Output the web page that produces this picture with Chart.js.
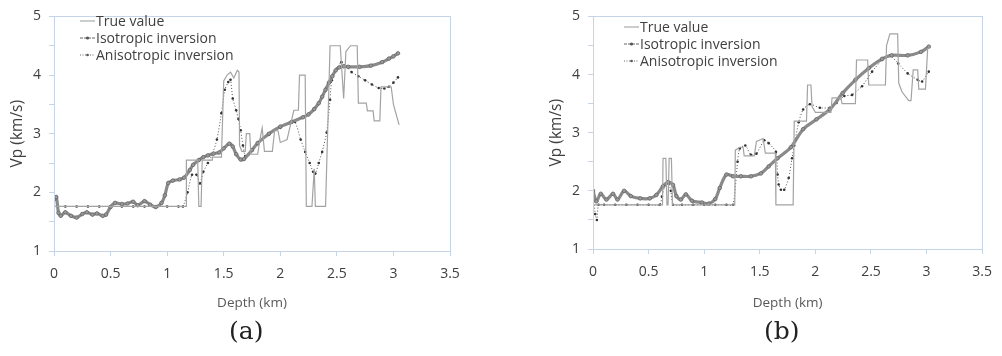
<!DOCTYPE html>
<html>
<head>
<meta charset="utf-8">
<script src="https://cdn.jsdelivr.net/npm/chart.js@4.4.0/dist/chart.umd.min.js"></script>
<style>
  body { margin: 0; background: #fff; width: 1002px; height: 356px; overflow: hidden; position: relative; font-family: "Open Sans", sans-serif; }
  .box { position: absolute; top: 0; height: 320px; }
  .legend { position: absolute; font-size: 14px; color: #404040; line-height: 17px; }
  .legend div { white-space: nowrap; }
  .legend svg { vertical-align: middle; margin-right: 1px; position: relative; top: -1px; }
  .cap { position: absolute; top: 316px; font-family: "DejaVu Serif", serif; font-size: 25px; color: #222; }
</style>
</head>
<body>
<div class="box" style="left:0;width:470px"><canvas id="chartA"></canvas></div>
<div class="box" style="left:539px;width:463px"><canvas id="chartB"></canvas></div>

<div class="legend" style="left:80px;top:12px">
  <div><svg width="15" height="8"><line x1="0" y1="4" x2="15" y2="4" stroke="#999" stroke-width="1"/></svg>True value</div>
  <div><svg width="15" height="8"><line x1="0" y1="4" x2="15" y2="4" stroke="#666" stroke-width="1" stroke-dasharray="3,1"/><circle cx="7.5" cy="4" r="1.6" fill="#555"/></svg>Isotropic inversion</div>
  <div><svg width="15" height="8"><line x1="0" y1="4" x2="15" y2="4" stroke="#666" stroke-width="1" stroke-dasharray="1,1.5"/><circle cx="7.5" cy="4" r="1.3" fill="#555"/></svg>Anisotropic inversion</div>
</div>
<div class="legend" style="left:624px;top:18px">
  <div><svg width="15" height="8"><line x1="0" y1="4" x2="15" y2="4" stroke="#999" stroke-width="1"/></svg>True value</div>
  <div><svg width="15" height="8"><line x1="0" y1="4" x2="15" y2="4" stroke="#666" stroke-width="1" stroke-dasharray="3,1"/><circle cx="7.5" cy="4" r="1.6" fill="#555"/></svg>Isotropic inversion</div>
  <div><svg width="15" height="8"><line x1="0" y1="4" x2="15" y2="4" stroke="#666" stroke-width="1" stroke-dasharray="1,1.5"/><circle cx="7.5" cy="4" r="1.3" fill="#555"/></svg>Anisotropic inversion</div>
</div>
<div class="cap" style="left:229px">(a)</div>
<div class="cap" style="left:764px">(b)</div>

<script>
// ---- data, panel (a) ----
const trueDepthA = [0, 1.17, 1.17, 1.27, 1.28, 1.30, 1.31, 1.40, 1.40, 1.48, 1.50, 1.53, 1.56, 1.59, 1.62, 1.635, 1.64, 1.66, 1.69, 1.70, 1.73, 1.74, 1.80, 1.82, 1.84, 1.86, 1.93, 1.95, 1.98, 2.00, 2.06, 2.09, 2.12, 2.16, 2.17, 2.22, 2.23, 2.28, 2.30, 2.31, 2.40, 2.44, 2.53, 2.56, 2.58, 2.62, 2.68, 2.69, 2.76, 2.77, 2.82, 2.83, 2.88, 2.89, 2.98, 3.00, 3.05]
const trueVpA = [1.76, 1.76, 2.55, 2.55, 1.76, 1.76, 2.55, 2.55, 2.6, 2.6, 3.9, 4.0, 4.05, 3.95, 4.08, 4.05, 2.8, 2.7, 2.7, 3.0, 3.0, 2.65, 2.65, 2.9, 3.1, 2.7, 2.7, 3.05, 3.05, 2.85, 2.9, 3.15, 3.4, 3.4, 4.0, 4.0, 1.76, 1.76, 2.4, 1.76, 1.76, 4.5, 4.5, 3.6, 4.4, 4.5, 4.5, 3.52, 3.52, 3.39, 3.39, 3.22, 3.22, 3.8, 3.8, 3.5, 3.15]

const isoDepthA = [0, 0.02, 0.04, 0.06, 0.10, 0.15, 0.20, 0.25, 0.29, 0.34, 0.38, 0.43, 0.46, 0.50, 0.54, 0.60, 0.65, 0.70, 0.74, 0.80, 0.85, 0.90, 0.95, 0.98, 1.01, 1.05, 1.11, 1.15, 1.20, 1.23, 1.28, 1.32, 1.36, 1.41, 1.46, 1.50, 1.55, 1.58, 1.61, 1.65, 1.68, 1.75, 1.80, 1.90, 2.00, 2.10, 2.20, 2.25, 2.30, 2.34, 2.37, 2.40, 2.43, 2.46, 2.49, 2.52, 2.56, 2.60, 2.70, 2.80, 2.90, 2.96, 3.00, 3.04]
const isoVpA = [1.88, 1.92, 1.65, 1.60, 1.66, 1.60, 1.57, 1.63, 1.66, 1.62, 1.64, 1.60, 1.62, 1.75, 1.82, 1.80, 1.81, 1.84, 1.78, 1.85, 1.79, 1.75, 1.82, 1.95, 2.16, 2.20, 2.22, 2.25, 2.38, 2.47, 2.55, 2.60, 2.63, 2.66, 2.68, 2.75, 2.83, 2.78, 2.65, 2.56, 2.57, 2.72, 2.84, 3.00, 3.12, 3.20, 3.28, 3.33, 3.42, 3.52, 3.63, 3.75, 3.87, 3.98, 4.08, 4.13, 4.15, 4.14, 4.14, 4.16, 4.22, 4.28, 4.32, 4.37]

const anisoDepthA = [0, 0.1, 0.2, 0.3, 0.4, 0.5, 0.6, 0.7, 0.8, 0.9, 1.0, 1.1, 1.14, 1.18, 1.22, 1.26, 1.29, 1.32, 1.36, 1.40, 1.44, 1.48, 1.51, 1.54, 1.56, 1.58, 1.61, 1.63, 1.65, 1.67, 1.69, 1.72, 1.80, 1.90, 2.00, 2.08, 2.13, 2.18, 2.22, 2.26, 2.29, 2.31, 2.34, 2.37, 2.41, 2.44, 2.455, 2.50, 2.54, 2.58, 2.63, 2.69, 2.75, 2.81, 2.87, 2.92, 2.96, 3.00, 3.04]
const anisoVpA = [1.76, 1.76, 1.76, 1.76, 1.76, 1.76, 1.76, 1.76, 1.76, 1.76, 1.76, 1.76, 1.76, 2.0, 2.3, 2.3, 2.15, 2.35, 2.5, 2.65, 2.9, 3.35, 3.75, 3.88, 3.92, 3.6, 3.4, 3.25, 3.06, 2.8, 2.62, 2.65, 2.82, 2.98, 3.1, 3.18, 3.2, 2.9, 2.69, 2.5, 2.35, 2.32, 2.5, 2.69, 3.02, 3.58, 3.91, 4.11, 4.22, 4.15, 4.05, 3.98, 3.91, 3.84, 3.78, 3.77, 3.80, 3.87, 3.96]

// ---- data, panel (b) ----
const trueDepthB = [0, 0.625, 0.63, 0.655, 0.665, 0.675, 0.685, 0.705, 0.715, 1.275, 1.28, 1.32, 1.35, 1.36, 1.45, 1.47, 1.53, 1.55, 1.64, 1.645, 1.80, 1.81, 1.92, 1.93, 1.96, 1.97, 2.00, 2.14, 2.15, 2.23, 2.24, 2.36, 2.37, 2.47, 2.48, 2.63, 2.64, 2.67, 2.74, 2.75, 2.78, 2.84, 2.86, 2.88, 2.92, 2.93, 2.99, 3.01, 3.03]
const trueVpB = [1.76, 1.76, 2.56, 2.56, 1.76, 1.76, 2.56, 2.56, 1.76, 1.76, 2.7, 2.75, 2.75, 2.6, 2.6, 2.85, 2.9, 2.65, 2.65, 1.76, 1.76, 3.2, 3.2, 3.82, 3.82, 3.45, 3.35, 3.35, 3.6, 3.6, 3.5, 3.5, 4.25, 4.25, 3.82, 3.82, 4.5, 4.7, 4.7, 3.85, 3.7, 3.55, 3.55, 4.08, 4.08, 3.75, 3.75, 4.45, 4.45]

const isoDepthB = [0, 0.03, 0.07, 0.12, 0.18, 0.22, 0.28, 0.34, 0.425, 0.51, 0.57, 0.63, 0.675, 0.72, 0.75, 0.79, 0.835, 0.89, 0.98, 1.04, 1.10, 1.14, 1.20, 1.26, 1.33, 1.42, 1.51, 1.58, 1.66, 1.78, 1.89, 2.01, 2.13, 2.245, 2.36, 2.48, 2.60, 2.685, 2.83, 2.95, 3.02]
const isoVpB = [2.0, 1.82, 1.95, 1.85, 1.95, 1.85, 2.0, 1.91, 1.87, 1.87, 1.93, 2.08, 2.15, 2.10, 1.91, 1.85, 1.94, 1.83, 1.80, 1.78, 1.86, 2.05, 2.28, 2.25, 2.25, 2.25, 2.30, 2.42, 2.56, 2.75, 3.06, 3.23, 3.40, 3.68, 3.91, 4.11, 4.27, 4.33, 4.33, 4.39, 4.48]

const anisoDepthB = [0, 0.02, 0.035, 0.05, 0.1, 0.2, 0.3, 0.4, 0.5, 0.6, 0.62, 0.65, 0.68, 0.70, 0.72, 0.8, 0.9, 1.0, 1.1, 1.2, 1.26, 1.30, 1.32, 1.37, 1.42, 1.47, 1.54, 1.58, 1.645, 1.66, 1.67, 1.69, 1.72, 1.76, 1.79, 1.81, 1.85, 1.89, 1.95, 2.04, 2.13, 2.19, 2.26, 2.33, 2.42, 2.51, 2.60, 2.67, 2.745, 2.83, 2.92, 2.96, 3.02]
const anisoVpB = [2.02, 1.6, 1.5, 1.76, 1.76, 1.76, 1.76, 1.76, 1.76, 1.76, 1.9, 2.1, 2.12, 2.0, 1.76, 1.76, 1.76, 1.76, 1.76, 1.76, 1.76, 2.5, 2.73, 2.78, 2.62, 2.64, 2.87, 2.82, 2.67, 2.28, 2.11, 2.02, 2.02, 2.22, 2.56, 2.78, 3.18, 3.40, 3.49, 3.43, 3.43, 3.51, 3.63, 3.65, 3.80, 4.05, 4.25, 4.33, 4.19, 4.02, 3.91, 3.88, 4.05]

const depthTicks = [0, 0.5, 1, 1.5, 2, 2.5, 3, 3.5]
const vpTicks = [1, 2, 3, 4, 5]

const pts = (xs, ys) => xs.map((x, i) => ({ x: x, y: ys[i] }))

const frameColor = '#c5d5e7'

const framePlugin = {
    id: 'frame',
    afterDraw(chart) {
        const a = chart.chartArea
        const c = chart.ctx
        c.save()
        c.strokeStyle = frameColor
        c.lineWidth = 1
        c.strokeRect(Math.round(a.left) + 0.5, Math.round(a.top) + 0.5, Math.round(a.right - a.left), Math.round(a.bottom - a.top))
        c.restore()
    }
}

const makeChart = (id, trueD, trueV, isoD, isoV, anD, anV, xHeight, padRight) => {
    return new Chart(document.getElementById(id), {
        type: 'line',
        data: {
            datasets: [
                {
                    label: 'True value',
                    data: pts(trueD, trueV),
                    borderColor: '#a3a3a3',
                    borderWidth: 1.2,
                    pointRadius: 0,
                    tension: 0
                },
                {
                    label: 'Isotropic inversion',
                    data: pts(isoD, isoV),
                    borderColor: '#8a8a8a',
                    borderWidth: 3.2,
                    pointRadius: 1.8,
                    pointBackgroundColor: '#9a9a9a',
                    pointBorderColor: '#666',
                    pointBorderWidth: 0.8,
                    tension: 0.3
                },
                {
                    label: 'Anisotropic inversion',
                    data: pts(anD, anV),
                    borderColor: '#555',
                    borderWidth: 1,
                    borderDash: [1, 2],
                    pointRadius: 1.3,
                    pointBackgroundColor: '#333',
                    pointBorderWidth: 0,
                    tension: 0.2
                }
            ]
        },
        options: {
            responsive: true,
            maintainAspectRatio: false,
            animation: false,
            layout: { autoPadding: false, padding: { top: 12, right: padRight, left: 0, bottom: 0 } },
            plugins: { legend: { display: false }, tooltip: { enabled: false } },
            scales: {
                x: {
                    type: 'linear',
                    min: 0,
                    max: 3.5,
                    afterFit: s => { s.height = xHeight },
                    afterBuildTicks: s => { s.ticks = depthTicks.map(v => ({ value: v })) },
                    ticks: { color: '#404040', font: { family: 'Open Sans', size: 14 }, padding: 10, maxRotation: 0, callback: v => String(v) },
                    grid: { display: true, drawOnChartArea: false, color: frameColor, tickLength: 5 },
                    border: { color: frameColor },
                    title: { display: true, text: 'Depth (km)', color: '#595959', font: { family: 'Open Sans', size: 13.5 }, padding: { top: 0, bottom: 9 } }
                },
                y: {
                    min: 1,
                    max: 5,
                    afterFit: s => { s.width = 54 },
                    ticks: { stepSize: 0.5, color: '#404040', font: { family: 'Open Sans', size: 14 }, padding: 8, callback: v => vpTicks.includes(v) ? String(v) : '' },
                    grid: { display: true, drawOnChartArea: false, color: frameColor, tickLength: 5 },
                    border: { color: frameColor },
                    title: { display: true, text: 'Vp (km/s)', color: '#404040', font: { family: 'Open Sans', size: 15.5 }, padding: { top: 8, bottom: 0 } }
                }
            }
        },
        plugins: [framePlugin]
    })
}

const chartA = makeChart('chartA', trueDepthA, trueVpA, isoDepthA, isoVpA, anisoDepthA, anisoVpA, 69, 20)
const chartB = makeChart('chartB', trueDepthB, trueVpB, isoDepthB, isoVpB, anisoDepthB, anisoVpB, 71, 9)
</script>
</body>
</html>
